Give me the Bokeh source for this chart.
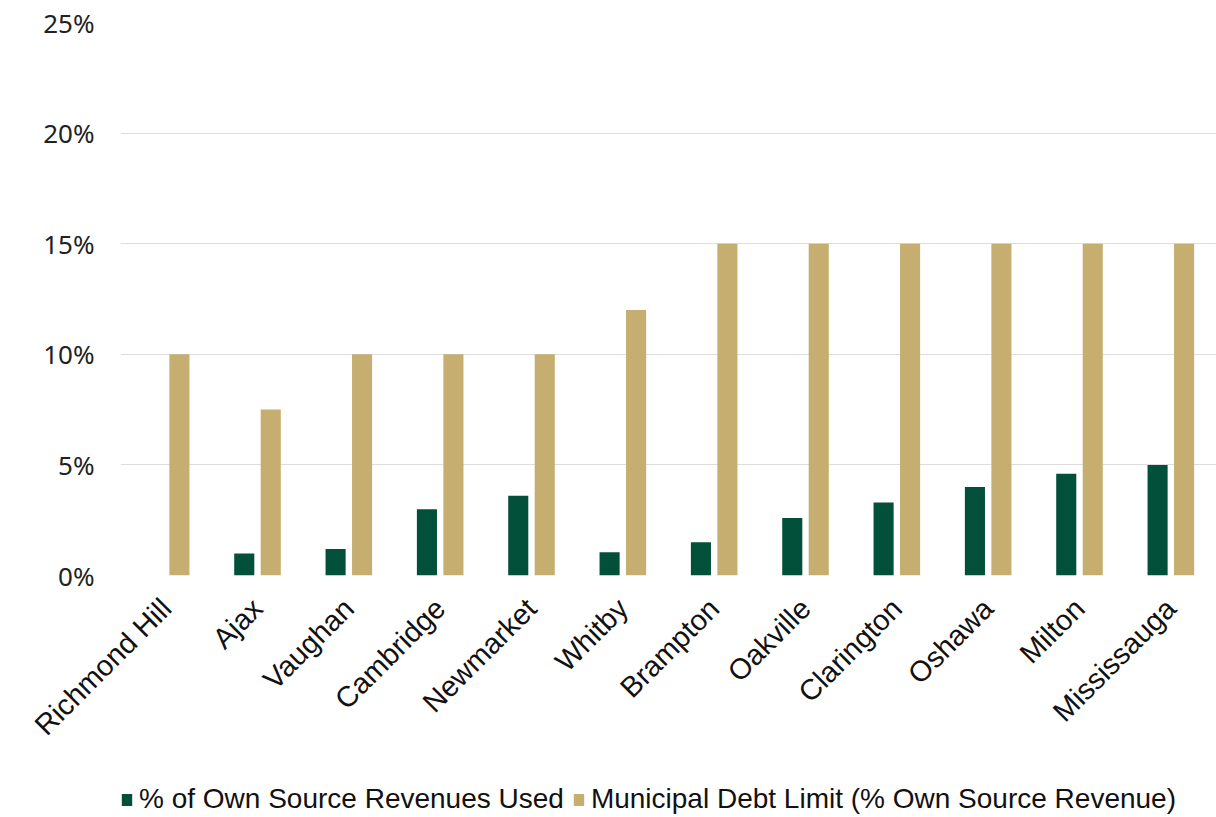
import math
from bokeh.plotting import figure
from bokeh.layouts import column
from bokeh.models import ColumnDataSource, Legend, LegendItem, FactorRange, NumeralTickFormatter, FixedTicker
from bokeh.transform import dodge
from bokeh.embed import file_html
from bokeh.resources import INLINE

cities = ["Richmond Hill", "Ajax", "Vaughan", "Cambridge", "Newmarket", "Whitby",
          "Brampton", "Oakville", "Clarington", "Oshawa", "Milton", "Mississauga"]
used = [0.0, 1.0, 1.2, 3.0, 3.6, 1.05, 1.5, 2.6, 3.3, 4.0, 4.6, 5.0]
limit = [10, 7.5, 10, 10, 10, 12, 15, 15, 15, 15, 15, 15]
y_ticks = [0, 5, 10, 15, 20, 25]
series_labels = ["% of Own Source Revenues Used", "Municipal Debt Limit (% Own Source Revenue)"]

src = ColumnDataSource(dict(city=cities, used=[u / 100 for u in used], limit=[l / 100 for l in limit]))

GREEN = "#03503A"
TAN = "#C5AE70"

p = figure(x_range=FactorRange(*cities), y_range=(0, 0.25), width=1216, height=770,
           output_backend="svg", toolbar_location=None,
           min_border_left=120, min_border_right=0, min_border_top=22, min_border_bottom=195)
p.outline_line_color = None
p.background_fill_color = "white"

p.vbar(x=dodge("city", -0.145, range=p.x_range), top="used", width=0.22, source=src,
       fill_color=GREEN, line_color=None)
p.vbar(x=dodge("city", 0.145, range=p.x_range), top="limit", width=0.22, source=src,
       fill_color=TAN, line_color=None)

p.x_range.range_padding = 0.0

p.yaxis.ticker = FixedTicker(ticks=[t / 100 for t in y_ticks])
p.yaxis.formatter = NumeralTickFormatter(format="0%")
p.yaxis.axis_line_color = None
p.yaxis.major_tick_line_color = None
p.yaxis.minor_tick_line_color = None
p.yaxis.major_label_text_font = "Noto Sans"
p.yaxis.major_label_text_font_size = "26px"
p.yaxis.major_label_text_color = "#222222"
p.yaxis.major_label_standoff = 20

p.xaxis.axis_line_color = None
p.xaxis.major_tick_line_color = None
p.xaxis.minor_tick_line_color = None
p.xaxis.major_label_orientation = math.pi / 4
p.xaxis.major_label_text_font = "Liberation Sans"
p.xaxis.major_label_text_font_size = "29px"
p.xaxis.major_label_text_color = "#111111"
p.xaxis.major_label_standoff = 22

p.xgrid.grid_line_color = None
p.ygrid.grid_line_color = "#DDDDDD"
p.ygrid.grid_line_width = 1

# legend strip below the chart
lg = figure(width=1216, height=47, x_range=(0, 1), y_range=(0, 1),
            output_backend="svg", toolbar_location=None,
            min_border=0, min_border_left=0, min_border_right=0,
            min_border_top=0, min_border_bottom=0,
            x_axis_type=None, y_axis_type=None)
lg.outline_line_color = None
lg.xgrid.grid_line_color = None
lg.ygrid.grid_line_color = None
# swatch renderers kept outside the visible range: they only feed the legend glyphs
d1 = lg.vbar(x=[10], top=[10], bottom=[9], width=0.1, fill_color=GREEN, line_color=None)
d2 = lg.vbar(x=[10], top=[10], bottom=[9], width=0.1, fill_color=TAN, line_color=None)
legend = Legend(items=[LegendItem(label=series_labels[0], renderers=[d1], index=0),
                       LegendItem(label=series_labels[1], renderers=[d2], index=0)],
                orientation="horizontal", location=(0, 2),
                label_text_font="Liberation Sans", label_text_font_size="28px",
                label_text_color="#111111", glyph_width=13, glyph_height=15,
                spacing=8, label_standoff=6, border_line_color=None,
                background_fill_alpha=0, margin=0, padding=0)
lg.add_layout(legend)

layout = column(p, lg, spacing=0)
open("out.html", "w").write(file_html(layout, INLINE))
